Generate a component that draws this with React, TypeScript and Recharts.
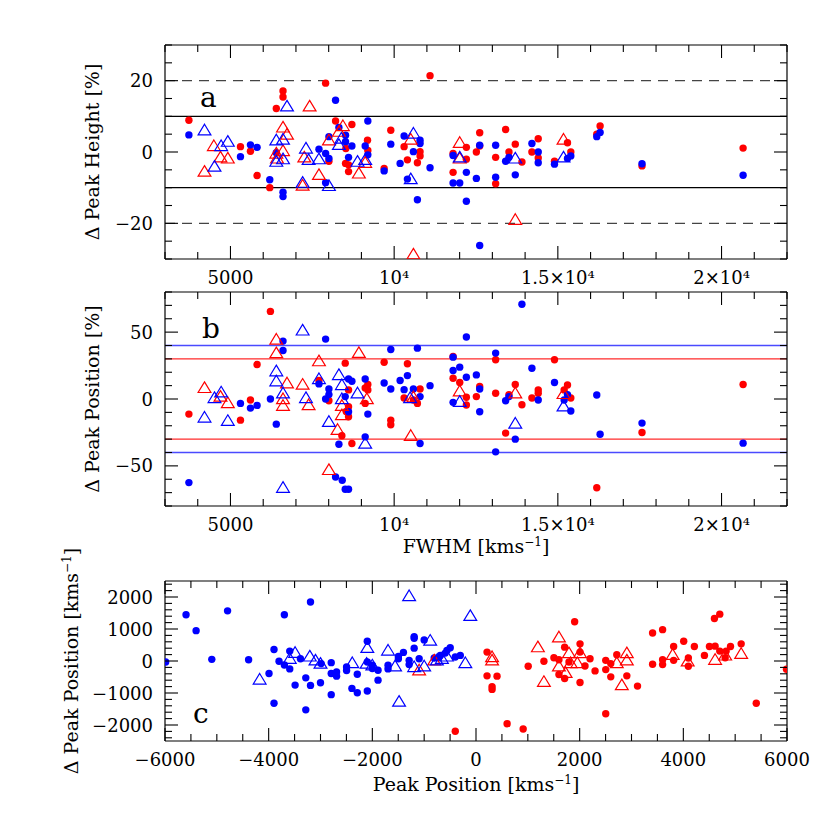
import React from 'react';
import { ScatterChart, Scatter, XAxis, YAxis, ReferenceLine } from 'recharts';

const FONT = '"DejaVu Serif", "Liberation Serif", serif';
const RED = '#ff0000';
const BLUE = '#0000ff';

type Pt = [number, number];

// ---------- Panel a: FWHM vs Δ Peak Height [%] ----------
const aRedDots: Pt[] = [
  [3730, 8.9], [5305, 1.5], [5610, 0.2], [5813, -6.6], [6200, -10], [6400, 12.2], [6605, 17.1], [6605, 15.4],
  [7906, 19.3], [8210, 8.7], [8007, -2.6], [8515, -3.2], [8607, -3.6], [8607, -5.5], [8709, 7.7], [9186, 3.3],
  [9196, 0.4], [8525, 1.0], [9694, -4.6], [9897, 6.1], [10304, 1.5], [10405, -2.2], [10710, -3.0], [10791, 0.1],
  [10791, -1.1], [11096, 21.4], [11800, -0.4], [11800, -5.7], [12206, 1.3], [12206, -2.0], [12511, 0], [12613, 5.4],
  [12613, 1.7], [13100, -1.5], [13100, -8.9], [13405, 6.3], [13507, 0], [13700, 2.2], [13903, -2.8], [14208, 0],
  [14401, 3.7], [14401, -1.7], [14898, -2.6], [15295, 2.6], [15396, 0], [16189, 5.0], [16291, 7.3], [17571, -3.9],
  [20659, 1.1],
];
const aBlueDots: Pt[] = [
  [3730, 4.8], [5305, -1.3], [5610, 2.0], [5813, 1.3], [6200, -7.8], [6400, -0.2], [6605, -11.3], [6605, -12.5],
  [7703, 0.8], [7906, -0.4], [8007, -1.8], [8007, 4.3], [7906, -8.6], [8210, 14.5], [8312, 6.9], [8515, 4.7],
  [8515, 2.9], [8607, -1.5], [8709, 1.7], [9196, 8.7], [9115, 1.7], [9196, -0.8], [9694, -5.3], [9897, 2.2],
  [10182, -3.2], [10304, 4.5], [10405, -7.6], [10588, 0.1], [10710, -13.4], [10791, 3.3], [10791, 2.4], [11096, -4.4],
  [11800, -1.0], [11800, -8.7], [12003, -8.7], [12206, -5.7], [12206, -13.8], [12511, -7.4], [12613, 1.9], [12613, -26.2],
  [13100, 1.9], [13100, -7.1], [13405, -2.6], [13507, -1.5], [13700, -6.4], [14208, 2.4], [14401, 0], [14401, -3.0],
  [14898, -3.4], [15295, -1.8], [15396, -1.1], [16189, 4.3], [16291, 5.5], [17571, -3.3], [20659, -6.5],
];
const aRedTris: Pt[] = [
  [4207, -5.5], [4492, 1.7], [4695, -1.5], [4919, -1.8], [6400, -0.4], [6422, -1.8], [6605, 6.9], [6727, 4.9],
  [6605, 0.3], [7418, 12.8], [7255, -1.5], [7204, -9.4], [7703, -6.4], [8007, 3.3], [8312, 5.7], [8434, 7.3],
  [8922, -6.0], [9115, -3.0], [10588, -28.7], [10507, 3.5], [12003, 2.6], [12003, -1.8], [13700, -19.0], [15173, 3.5],
];
const aBlueTris: Pt[] = [
  [4207, 6.1], [4512, -4.1], [4715, 1.7], [4919, 2.9], [6727, 12.8], [6400, 3.3], [6605, 3.5], [6605, -2.0],
  [6400, -2.7], [7306, 1.0], [7387, -2.2], [7703, -2.0], [7204, -8.6], [8007, -9.5], [8312, 2.0], [8388, 3.8],
  [8881, -2.7], [9115, -2.2], [10588, 5.2], [10507, -7.6], [12003, -1.5], [13700, -1.8], [15173, -1.5],
];

// ---------- Panel b: FWHM vs Δ Peak Position [%] ----------
const bRedDots: Pt[] = [
  [3730, -11.3], [5305, -15.8], [5610, -0.8], [5813, 25.8], [6220, 65.5], [7703, 13.8], [8007, -1.3], [8403, -27.5],
  [8505, 26.8], [8607, 6.8], [8607, -5.8], [8607, -13.3], [8536, -9.3], [8709, -33.3], [9115, -3.3], [9196, 10.8],
  [9196, 6.8], [9115, 8.3], [9694, 27.5], [9897, -15.8], [9897, -19.3], [10304, 0.8], [10405, 26.3], [10710, -3.3],
  [10791, 7.5], [10588, -0.8], [11800, 15.5], [12003, 12.3], [11800, 31.8], [12206, 1.3], [12206, -4.5], [12511, 1.8],
  [12613, 9.3], [13100, 29.3], [13100, 4.3], [13405, -25.5], [13507, 3.3], [13700, 10.8], [13903, -4.3], [14208, 0.8],
  [14401, 6.8], [14401, 4.3], [14898, 29.3], [15193, 6.8], [15295, 10.5], [15396, 0.8], [16189, -66.3], [17571, -25.0],
  [20659, 10.8],
];
const bBlueDots: Pt[] = [
  [3730, -62.5], [5305, -3.3], [5610, -6.8], [5813, -4.8], [6220, 0], [6400, -18.8], [6605, 43.3], [6605, 36.3],
  [7703, 11.3], [7906, 44.8], [8007, 7.5], [8007, 3.3], [7906, 0], [8210, -58.3], [8312, -33.8], [8414, -60.8],
  [8505, -67.5], [8607, -67.5], [8505, 1.8], [8607, 15.0], [8709, 13.3], [8607, -9.5], [9115, 15.0], [9196, -11.3],
  [9115, -28.3], [9694, 12.0], [9897, 37.0], [9897, 7.5], [10182, 13.8], [10304, 7.0], [10405, 17.5], [10588, 7.5],
  [10710, 38.0], [10791, 1.8], [10791, -33.3], [11096, 10.0], [11800, 31.3], [11800, 21.3], [12003, 23.8], [11800, -2.5],
  [12206, 46.3], [12206, 16.3], [12511, 18.0], [12613, 7.5], [12613, -9.5], [13100, 34.3], [13100, -39.5], [13405, -1.3],
  [13507, 1.8], [13700, -30.0], [13903, 70.8], [14208, 23.0], [14401, -0.8], [14898, 12.3], [15193, -0.8], [15295, 3.3],
  [15396, -9.0], [16189, 3.0], [16291, -26.3], [17571, -18.0], [20659, -33.0],
];
const bRedTris: Pt[] = [
  [4207, 8.3], [4695, 1.8], [4919, -3.0], [6400, 44.5], [6400, 34.3], [6605, 0], [6605, -5.0], [6727, 11.8],
  [7204, 10.8], [7387, -4.5], [7703, 28.3], [8007, -53], [8271, -23], [8403, -5.0], [8403, -12.0], [8922, 34.5],
  [9166, 0], [10507, -27.5], [10588, 1.3], [12003, 5.8], [13700, 4.3], [15173, 3.8],
];
const bBlueTris: Pt[] = [
  [4207, -13.8], [4512, 0.8], [4715, 5.0], [4919, -16.3], [6400, 20.8], [6400, 13.3], [6605, 4.3], [6605, -66.3],
  [7204, 51.3], [7306, 0.8], [7703, 15.0], [8007, -17.0], [8312, 18.0], [8403, 10.5], [8403, 0], [8881, 4.3],
  [9115, -33.3], [10487, 0.8], [12003, -2.0], [13700, -18.3], [15173, -5.5],
];

// ---------- Panel c: Peak Position vs Δ Peak Position [km/s] ----------
const cBlueDots: Pt[] = [
  [-5987, -31], [-5594, 1443], [-5400, 949], [-5097, 52], [-4793, 1567], [-4387, 41], [-3993, -392], [-3897, 361],
  [-3897, -1320], [-3800, -10], [-3697, 1443], [-3697, -124], [-3593, 309], [-3593, -247], [-3490, -753], [-3387, 72],
  [-3284, -526], [-3284, -1526], [-3193, 1845], [-3193, -763], [-3000, -680], [-2987, -82], [-2793, -52], [-2793, -392],
  [-2793, -1052], [-2690, -340], [-2690, -474], [-2497, -186], [-2497, -299], [-2394, -856], [-2290, -412], [-2290, -990],
  [-2097, 619], [-2097, -31], [-2097, -938], [-2000, -134], [-2000, -237], [-1890, -289], [-1890, -598], [-1697, -134],
  [-1697, -247], [-1497, 144], [-1497, 72], [-1400, 268], [-1290, 21], [-1290, -113], [-1193, 763], [-1193, 711],
  [-1193, 402], [-1097, 72], [-1000, 660], [-806, 93], [-723, 103], [-690, 175], [-594, 247], [-561, 330],
  [-497, 412], [-400, 124], [-303, 175],
];
const cBlueTris: Pt[] = [
  [-4174, -577], [-3593, 72], [-3490, 258], [-3206, 144], [-3097, 21], [-3000, -82], [-2387, -62], [-2097, 412],
  [-2110, -82], [-2000, -134], [-1697, 330], [-1561, -165], [-1484, -1268], [-1290, 2031], [-1193, -186], [-1000, -165],
  [-884, 639], [-755, 21], [-658, 72], [-561, 144], [-110, 1412], [-206, -62],
];
const cRedTris: Pt[] = [
  [-1097, -289], [-806, 21], [310, 124], [310, 21], [1194, 433], [1310, -650], [1600, 742], [1600, -165],
  [1729, -371], [1794, 247], [1826, -62], [1955, -62], [2007, 247], [2716, -62], [2813, -753], [2910, 247],
  [2910, 21], [3794, 196], [4084, -10], [4613, 41], [4807, 175], [5116, 227],
];
const cRedDots: Pt[] = [
  [-400, -2196], [213, 278], [213, -464], [310, -804], [310, -887], [406, -474], [600, -1959], [910, -2124],
  [1007, -165], [1310, -10], [1503, 103], [1600, 41], [1600, -423], [1710, 433], [1710, -546], [1903, 1227],
  [1794, -31], [2007, 536], [2007, 278], [2007, -670], [2103, -155], [2200, 72], [2297, -309], [2503, 21],
  [2503, -268], [2503, -1650], [2600, -82], [2600, -495], [2716, 196], [2910, -464], [3116, -784], [3407, 876],
  [3407, -103], [3600, 979], [3600, 41], [3600, -113], [3813, 454], [3813, 21], [4007, 619], [4097, 93],
  [4097, -165], [4213, 454], [4407, 175], [4504, 454], [4600, 1330], [4613, 464], [4703, 1464], [4703, 309],
  [4807, 103], [4826, 309], [4910, 454], [5116, 536], [5407, -1320], [5990, -258],
];

// ---------- Axes / ticks ----------
const fwhmDomain: [number, number] = [3000, 22000];
const fwhmMajor = [5000, 10000, 15000, 20000];
const fwhmLabels = ['5000', '10⁴', '1.5×10⁴', '2×10⁴'];
const fwhmMinorStep = 1000;

const aDomain: [number, number] = [-30, 30];
const aMajor = [-20, 0, 20];
const aLabels = ['−20', '0', '20'];
const aMinorStep = 5;
const aSolid = [10, -10];
const aDashed = [20, -20];

const bDomain: [number, number] = [-80, 80];
const bMajor = [-50, 0, 50];
const bLabels = ['−50', '0', '50'];
const bMinorStep = 10;
const bBlueLines = [40, -40];
const bRedLines = [30, -30];

const cxDomain: [number, number] = [-6000, 6000];
const cxMajor = [-6000, -4000, -2000, 0, 2000, 4000, 6000];
const cxLabels = ['−6000', '−4000', '−2000', '0', '2000', '4000', '6000'];
const cxMinorStep = 500;

const cyDomain: [number, number] = [-2500, 2500];
const cyMajor = [-2000, -1000, 0, 1000, 2000];
const cyLabels = ['−2000', '−1000', '0', '1000', '2000'];
const cyMinorStep = 200;

const stepTicks = (d: [number, number], step: number) => {
  const out: number[] = [];
  const start = Math.ceil(d[0] / step) * step;
  for (let v = start; v <= d[1] + 1e-9; v += step) out.push(Math.round(v * 1000) / 1000);
  return out;
};
const mergeTicks = (a: number[], b: number[]) => Array.from(new Set([...a, ...b])).sort((p, q) => p - q);

const toObj = (arr: Pt[]) => arr.map(([x, y]) => ({ x, y }));

type Side = 'bottom' | 'top' | 'left' | 'right';
const makeTick = (side: Side, majors: number[], labels?: string[]) => (props: any) => {
  const { x, y, payload } = props;
  const v = payload ? payload.value : NaN;
  const idx = majors.findIndex((m) => Math.abs(m - v) < 1e-6);
  const len = idx >= 0 ? 13 : 7;
  let l = { x1: x, y1: y, x2: x, y2: y };
  if (side === 'bottom') l = { x1: x, y1: y, x2: x, y2: y - len };
  if (side === 'top') l = { x1: x, y1: y, x2: x, y2: y + len };
  if (side === 'left') l = { x1: x, y1: y, x2: x + len, y2: y };
  if (side === 'right') l = { x1: x, y1: y, x2: x - len, y2: y };
  const label = labels && idx >= 0 ? labels[idx] : null;
  return (
    <g>
      <line {...l} stroke="#000" strokeWidth={1.1} />
      {label != null && side === 'bottom' && (
        <text x={x} y={y + 24.5} textAnchor="middle" fontFamily={FONT} fontSize={18} fill="#000">
          {label}
        </text>
      )}
      {label != null && side === 'left' && (
        <text x={x - 12} y={y + 6.5} textAnchor="end" fontFamily={FONT} fontSize={18} fill="#000">
          {label}
        </text>
      )}
    </g>
  );
};

const dotShape = (color: string) => (props: any) => {
  const { cx, cy } = props;
  if (cx == null || cy == null) return <g />;
  return <circle cx={cx} cy={cy} r={3.7} fill={color} stroke="none" />;
};
const triShape = (color: string) => (props: any) => {
  const { cx, cy } = props;
  if (cx == null || cy == null) return <g />;
  return (
    <path
      d={`M${cx},${cy - 6} L${cx + 6.4},${cy + 4.6} L${cx - 6.4},${cy + 4.6} Z`}
      fill="none"
      stroke={color}
      strokeWidth={1.2}
    />
  );
};

const W = 830;
const H = 830;
const AX = 1; // axis band thickness (px)

type PanelProps = {
  box: { top: number; bottom: number; left: number; right: number };
  xDomain: [number, number];
  xMajor: number[];
  xLabels: string[];
  xStep: number;
  yDomain: [number, number];
  yMajor: number[];
  yLabels: string[];
  yStep: number;
  redDots: Pt[];
  blueDots: Pt[];
  redTris: Pt[];
  blueTris: Pt[];
  lines: { y: number; stroke: string; dash?: string; width: number }[];
};

function Panel(p: PanelProps) {
  const xt = mergeTicks(p.xMajor, stepTicks(p.xDomain, p.xStep));
  const yt = mergeTicks(p.yMajor, stepTicks(p.yDomain, p.yStep));
  const margin = {
    top: p.box.top - AX,
    bottom: H - p.box.bottom - AX,
    left: p.box.left - AX,
    right: W - p.box.right - AX,
  };
  return (
    <div style={{ position: 'absolute', left: 0, top: 0 }}>
      <ScatterChart width={W} height={H} margin={margin}>
        <XAxis xAxisId="b" orientation="bottom" type="number" dataKey="x" domain={p.xDomain} allowDataOverflow
          ticks={xt} interval={0} height={AX} tickSize={0} tickMargin={0} tickLine={false}
          axisLine={{ stroke: '#000', strokeWidth: 1.2 }} tick={makeTick('bottom', p.xMajor, p.xLabels)} />
        <XAxis xAxisId="t" orientation="top" type="number" dataKey="x" domain={p.xDomain} allowDataOverflow
          ticks={xt} interval={0} height={AX} tickSize={0} tickMargin={0} tickLine={false}
          axisLine={{ stroke: '#000', strokeWidth: 1.2 }} tick={makeTick('top', p.xMajor)} />
        <YAxis yAxisId="l" orientation="left" type="number" dataKey="y" domain={p.yDomain} allowDataOverflow
          ticks={yt} interval={0} width={AX} tickSize={0} tickMargin={0} tickLine={false}
          axisLine={{ stroke: '#000', strokeWidth: 1.2 }} tick={makeTick('left', p.yMajor, p.yLabels)} />
        <YAxis yAxisId="r" orientation="right" type="number" dataKey="y" domain={p.yDomain} allowDataOverflow
          ticks={yt} interval={0} width={AX} tickSize={0} tickMargin={0} tickLine={false}
          axisLine={{ stroke: '#000', strokeWidth: 1.2 }} tick={makeTick('right', p.yMajor)} />
        {p.lines.map((ln, i) => (
          <ReferenceLine key={i} xAxisId="b" yAxisId="l" y={ln.y} stroke={ln.stroke}
            strokeWidth={ln.width} strokeDasharray={ln.dash} />
        ))}
        <Scatter xAxisId="b" yAxisId="l" data={toObj(p.redDots)} shape={dotShape(RED)} isAnimationActive={false} />
        <Scatter xAxisId="b" yAxisId="l" data={toObj(p.blueDots)} shape={dotShape(BLUE)} isAnimationActive={false} />
        <Scatter xAxisId="b" yAxisId="l" data={toObj(p.redTris)} shape={triShape(RED)} isAnimationActive={false} />
        <Scatter xAxisId="b" yAxisId="l" data={toObj(p.blueTris)} shape={triShape(BLUE)} isAnimationActive={false} />
      </ScatterChart>
    </div>
  );
}

const kms = (
  <>
    kms<tspan dy={-7} fontSize={12}>−1</tspan>
    <tspan dy={7}>]</tspan>
  </>
);

export default function App() {
  return (
    <div style={{ position: 'absolute', left: 0, top: 0, width: W, height: H, background: '#fff' }}>
      <Panel
        box={{ top: 45, bottom: 259, left: 165, right: 787 }}
        xDomain={fwhmDomain} xMajor={fwhmMajor} xLabels={fwhmLabels} xStep={fwhmMinorStep}
        yDomain={aDomain} yMajor={aMajor} yLabels={aLabels} yStep={aMinorStep}
        redDots={aRedDots} blueDots={aBlueDots} redTris={aRedTris} blueTris={aBlueTris}
        lines={[
          ...aDashed.map((y) => ({ y, stroke: '#444', dash: '10 7', width: 1.1 })),
          ...aSolid.map((y) => ({ y, stroke: '#000', width: 1.1 })),
        ]}
      />
      <Panel
        box={{ top: 292, bottom: 506, left: 165, right: 787 }}
        xDomain={fwhmDomain} xMajor={fwhmMajor} xLabels={fwhmLabels} xStep={fwhmMinorStep}
        yDomain={bDomain} yMajor={bMajor} yLabels={bLabels} yStep={bMinorStep}
        redDots={bRedDots} blueDots={bBlueDots} redTris={bRedTris} blueTris={bBlueTris}
        lines={[
          ...bBlueLines.map((y) => ({ y, stroke: '#4a4aff', width: 1.4 })),
          ...bRedLines.map((y) => ({ y, stroke: '#ff2a2a', width: 1.4 })),
        ]}
      />
      <Panel
        box={{ top: 581, bottom: 741, left: 165, right: 787 }}
        xDomain={cxDomain} xMajor={cxMajor} xLabels={cxLabels} xStep={cxMinorStep}
        yDomain={cyDomain} yMajor={cyMajor} yLabels={cyLabels} yStep={cyMinorStep}
        redDots={cRedDots} blueDots={cBlueDots} redTris={cRedTris} blueTris={cBlueTris}
        lines={[]}
      />
      <svg width={W} height={H} style={{ position: 'absolute', left: 0, top: 0, pointerEvents: 'none' }}
        fontFamily={FONT} fill="#000">
        <text x={200} y={107} fontSize={28}>a</text>
        <text x={202} y={338} fontSize={28}>b</text>
        <text x={193} y={723} fontSize={28}>c</text>
        <text x={476} y={553} fontSize={19} textAnchor="middle">FWHM [{kms}</text>
        <text x={476} y={791} fontSize={19} textAnchor="middle">Peak Position [{kms}</text>
        <text x={0} y={0} fontSize={19} textAnchor="middle" transform="translate(99,152) rotate(-90)">Δ Peak Height [%]</text>
        <text x={0} y={0} fontSize={19} textAnchor="middle" transform="translate(99,399) rotate(-90)">Δ Peak Position [%]</text>
        <text x={0} y={0} fontSize={19} textAnchor="middle" transform="translate(78,661) rotate(-90)">Δ Peak Position [{kms}</text>
      </svg>
    </div>
  );
}
